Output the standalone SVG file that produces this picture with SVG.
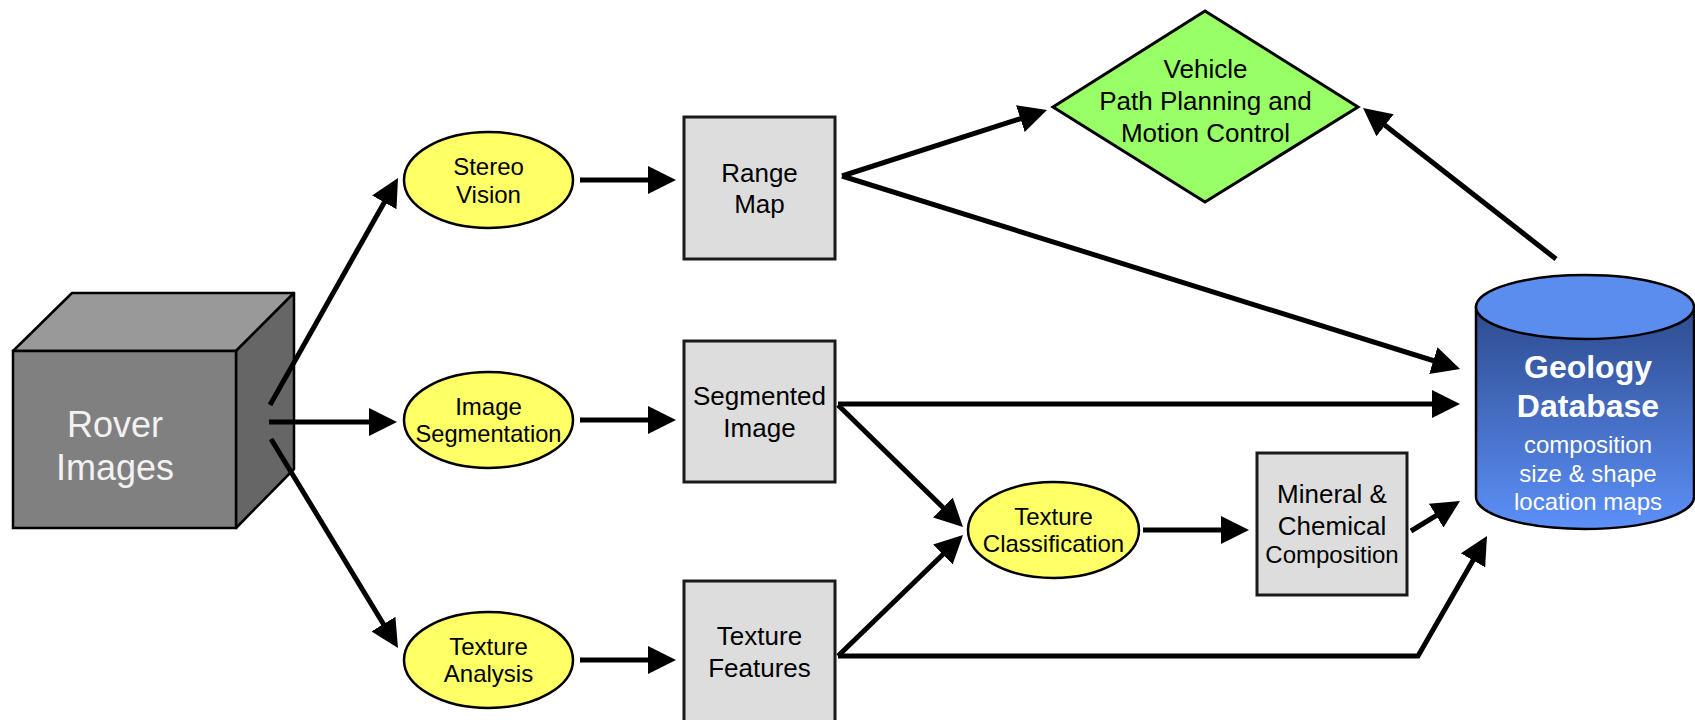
<svg xmlns="http://www.w3.org/2000/svg" width="1695" height="720" viewBox="0 0 1695 720">
<style>
text{font-family:"Liberation Sans",Arial,sans-serif;text-anchor:middle;fill:#000}
.ell{fill:#ffff66;stroke:#000;stroke-width:2.5}
.box{fill:#dddddd;stroke:#1a1a1a;stroke-width:3}
.e24{font-size:24px}
.b26{font-size:26px}
.conn line,.conn polyline{stroke:#000;stroke-width:5;fill:none}
</style>
<defs>
<marker id="ah" viewBox="0 0 28 28" refX="18" refY="14" markerWidth="28" markerHeight="28" orient="auto" markerUnits="userSpaceOnUse"><path d="M0,0 L28,14 L0,28 z" fill="#000"/></marker>
<linearGradient id="cyl" x1="0" y1="0" x2="0" y2="1"><stop offset="0" stop-color="#2e4b8e"/><stop offset="1" stop-color="#5c90f8"/></linearGradient>
</defs>
<rect width="1695" height="720" fill="#fff"/>

<g id="rover">
<polygon points="13,351 72,293 294,293 236,351" fill="#999999" stroke="#000" stroke-width="2.5" stroke-linejoin="round"/>
<polygon points="236,351 294,293 294,469 236,528" fill="#666666" stroke="#000" stroke-width="2.5" stroke-linejoin="round"/>
<rect x="13" y="351" width="223" height="177" fill="#808080" stroke="#000" stroke-width="2.5"/>
<text x="115" y="437" style="font-size:36px;fill:#f2f2f2">Rover</text>
<text x="115" y="480" style="font-size:36px;fill:#f2f2f2">Images</text>
</g>

<g id="stereo">
<ellipse class="ell" cx="488.5" cy="180" rx="84.5" ry="48"/>
<text class="e24" x="488.5" y="175">Stereo</text>
<text class="e24" x="488.5" y="203">Vision</text>
</g>
<g id="imgseg">
<ellipse class="ell" cx="488.5" cy="420" rx="84.5" ry="48"/>
<text class="e24" x="488.5" y="415">Image</text>
<text class="e24" x="488.5" y="442" textLength="146" lengthAdjust="spacingAndGlyphs">Segmentation</text>
</g>
<g id="texanal">
<ellipse class="ell" cx="488.5" cy="660" rx="84.5" ry="48"/>
<text class="e24" x="488.5" y="655">Texture</text>
<text class="e24" x="488.5" y="682">Analysis</text>
</g>

<g id="range">
<rect class="box" x="684" y="117" width="151" height="142"/>
<text class="b26" x="759.5" y="182">Range</text>
<text class="b26" x="759.5" y="213">Map</text>
</g>
<g id="segimg">
<rect class="box" x="684" y="341" width="151" height="141"/>
<text class="b26" x="759.5" y="405">Segmented</text>
<text class="b26" x="759.5" y="437">Image</text>
</g>
<g id="texfeat">
<rect class="box" x="684" y="581" width="151" height="150"/>
<text class="b26" x="759.5" y="645">Texture</text>
<text class="b26" x="759.5" y="677">Features</text>
</g>

<g id="texclass">
<ellipse class="ell" cx="1053.5" cy="530" rx="85.5" ry="48"/>
<text class="e24" x="1053.5" y="525">Texture</text>
<text class="e24" x="1053.5" y="552">Classification</text>
</g>

<g id="mineral">
<rect class="box" x="1257" y="453" width="150" height="142"/>
<text class="b26" x="1332" y="503">Mineral &amp;</text>
<text class="b26" x="1332" y="535">Chemical</text>
<text class="e24" x="1332" y="563">Composition</text>
</g>

<g id="vehicle">
<polygon points="1205,11 1358,107 1205,202 1053,107" fill="#99ff66" stroke="#000" stroke-width="3" stroke-linejoin="miter"/>
<text class="b26" x="1205.5" y="78">Vehicle</text>
<text class="b26" x="1205.5" y="110">Path Planning and</text>
<text class="b26" x="1205.5" y="142">Motion Control</text>
</g>

<g id="geodb">
<path d="M1476,307 L1476,497 A109,32 0 0 0 1694,497 L1694,307 Z" fill="url(#cyl)" stroke="#000" stroke-width="2.5"/>
<ellipse cx="1585" cy="307" rx="109" ry="32" fill="#5b8def" stroke="#000" stroke-width="2.5"/>
<text x="1588" y="378" style="font-size:32px;font-weight:bold;fill:#fff">Geology</text>
<text x="1588" y="417" style="font-size:32px;font-weight:bold;fill:#fff">Database</text>
<text class="e24" x="1588" y="453" style="fill:#fff">composition</text>
<text class="e24" x="1588" y="482" style="fill:#fff">size &amp; shape</text>
<text class="e24" x="1588" y="510" style="fill:#fff">location maps</text>
</g>

<g id="connectors" class="conn">
<line x1="270" y1="405" x2="393.1" y2="186.7" marker-end="url(#ah)"/>
<line x1="269" y1="422" x2="387" y2="422" marker-end="url(#ah)"/>
<line x1="271" y1="439" x2="392.8" y2="639.5" marker-end="url(#ah)"/>
<line x1="580" y1="180" x2="666" y2="180" marker-end="url(#ah)"/>
<line x1="580" y1="420" x2="666" y2="420" marker-end="url(#ah)"/>
<line x1="580" y1="660" x2="666" y2="660" marker-end="url(#ah)"/>
<line x1="842" y1="176" x2="1037.5" y2="113.1" marker-end="url(#ah)"/>
<line x1="842" y1="176" x2="1450.5" y2="366" marker-end="url(#ah)"/>
<line x1="838" y1="404" x2="1450" y2="404" marker-end="url(#ah)"/>
<line x1="838" y1="405" x2="955.8" y2="520" marker-end="url(#ah)"/>
<line x1="838" y1="656" x2="955.8" y2="542" marker-end="url(#ah)"/>
<line x1="1143" y1="530" x2="1239" y2="530" marker-end="url(#ah)"/>
<line x1="1411" y1="531" x2="1451.5" y2="506.2" marker-end="url(#ah)"/>
<polyline points="838,656 1418,656 1482,544.7" marker-end="url(#ah)"/>
<line x1="1556" y1="259" x2="1370.9" y2="114.2" marker-end="url(#ah)"/>
</g>
</svg>
